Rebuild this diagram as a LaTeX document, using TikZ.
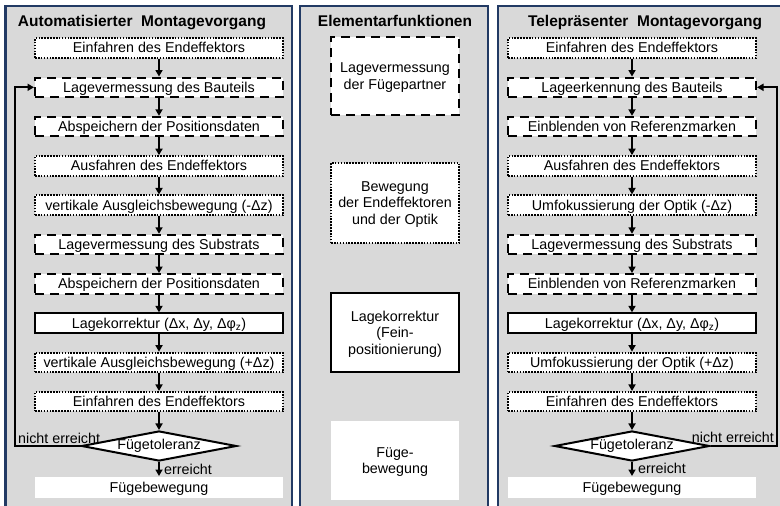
\documentclass[tikz,border=0pt]{standalone}
\usepackage{fontspec}
\setmainfont{Liberation Sans}
\usetikzlibrary{arrows.meta,shapes.geometric}
\definecolor{panelgray}{RGB}{217,217,217}
\definecolor{panelblue}{RGB}{34,58,100}
\begin{document}
\begin{tikzpicture}[x=1pt,y=-1pt,
  panel/.style={draw=panelblue,line width=1.6pt,fill=panelgray},
  title/.style={anchor=base,inner sep=0pt,font=\bfseries\fontsize{15.5}{18}\selectfont},
  stepbase/.style={fill=white,minimum width=248pt,minimum height=19.5pt,inner sep=0pt,
    line width=2pt,text height=9.8pt,text depth=0pt,font=\fontsize{14.3}{16}\selectfont},
  dottedbox/.style={stepbase,draw,dash pattern=on 1.6pt off 1.3pt},
  dashedbox/.style={stepbase,draw,dash pattern=on 9pt off 6pt},
  solidbox/.style={stepbase,draw},
  plainbox/.style={stepbase},
  funcbox/.style={minimum width=128pt,minimum height=79pt,align=center,
    text height={},text depth=0pt,font=\fontsize{14.3}{16.5}\selectfont},
  decision/.style={diamond,draw,fill=white,line width=2pt,aspect=5,inner sep=0pt,
    minimum width=155pt,minimum height=30pt,font=\fontsize{14.3}{16}\selectfont},
  flow/.style={line width=2pt,-{Triangle[width=7pt,length=6.5pt]}},
  lbl/.style={inner sep=0pt,font=\fontsize{14.3}{16}\selectfont}
]
\useasboundingbox (0,0) rectangle (780,506);
\clip (0,0) rectangle (780,506);
\fill[white] (0,0) rectangle (780,506);

% three panels
\filldraw[panel] (5,6) rectangle (292,530);
\filldraw[panel] (300,6) rectangle (488,530);
\filldraw[panel] (498,6) rectangle (800,530);
\draw[panelblue,line width=2.4pt] (5.4,6) -- (5.4,530);

\node[title] (T1) at (142,27) {Automatisierter\ \ Montagevorgang};
\node[title] (T2) at (395,27) {Elementarfunktionen};
\node[title] (T3) at (645,27) {Telepräsenter\ \ Montagevorgang};

% automated assembly sequence
\node[dottedbox] (L1) at (159,48) {Einfahren des Endeffektors};
\node[dashedbox] (L2) at (159,87.3) {Lagevermessung des Bauteils};
\node[dashedbox] (L3) at (159,126.6) {Abspeichern der Positionsdaten};
\node[dottedbox] (L4) at (159,165.9) {Ausfahren des Endeffektors};
\node[dottedbox] (L5) at (159,205.2) {vertikale Ausgleichsbewegung (-Δz)};
\node[dashedbox] (L6) at (159,244.5) {Lagevermessung des Substrats};
\node[dashedbox] (L7) at (159,283.8) {Abspeichern der Positionsdaten};
\node[solidbox] (L8) at (159,323.1) {Lagekorrektur (Δx, Δy, Δφ\textsubscript{z})};
\node[dottedbox] (L9) at (159,362.4) {vertikale Ausgleichsbewegung (+Δz)};
\node[dottedbox] (L10) at (159,401.7) {Einfahren des Endeffektors};
\node[decision] (LD) at (159,446) {Fügetoleranz};
\node[plainbox,minimum height=21pt] (LF) at (159,487.5) {Fügebewegung};

\foreach \a/\b in {L1/L2,L2/L3,L3/L4,L4/L5,L5/L6,L6/L7,L7/L8,L8/L9,L9/L10,L10/LD,LD/LF}
  \draw[flow] (\a) -- (\b);
\coordinate (LL) at (15,0);
\draw[flow] (LD.west) -- (LD.west -| LL) |- (L2.west);
\node[lbl,anchor=base west] (LN) at (18,443) {nicht erreicht};
\node[lbl,anchor=base west] (LE) at (164,474) {erreicht};

% elementary functions
\node[dashedbox,funcbox,minimum height=78pt] (M1) at (395,76) {Lagevermessung\\der Fügepartner};
\node[dottedbox,funcbox,minimum height=80pt] (M2) at (395,203) {Bewegung\\der Endeffektoren\\und der Optik};
\node[solidbox,funcbox] (M3) at (395,332.5) {Lagekorrektur\\(Fein-\\positionierung)};
\node[plainbox,funcbox] (M4) at (395,460.5) {Füge-\\bewegung};

% telepresent assembly sequence
\node[dottedbox] (R1) at (632,48) {Einfahren des Endeffektors};
\node[dashedbox] (R2) at (632,87.3) {Lageerkennung des Bauteils};
\node[dashedbox] (R3) at (632,126.6) {Einblenden von Referenzmarken};
\node[dottedbox] (R4) at (632,165.9) {Ausfahren des Endeffektors};
\node[dottedbox] (R5) at (632,205.2) {Umfokussierung der Optik (-Δz)};
\node[dashedbox] (R6) at (632,244.5) {Lagevermessung des Substrats};
\node[dashedbox] (R7) at (632,283.8) {Einblenden von Referenzmarken};
\node[solidbox] (R8) at (632,323.1) {Lagekorrektur (Δx, Δy, Δφ\textsubscript{z})};
\node[dottedbox] (R9) at (632,362.4) {Umfokussierung der Optik (+Δz)};
\node[dottedbox] (R10) at (632,401.7) {Einfahren des Endeffektors};
\node[decision] (RD) at (632,446) {Fügetoleranz};
\node[plainbox,minimum height=21pt] (RF) at (632,487.5) {Fügebewegung};

\foreach \a/\b in {R1/R2,R2/R3,R3/R4,R4/R5,R5/R6,R6/R7,R7/R8,R8/R9,R9/R10,R10/RD,RD/RF}
  \draw[flow] (\a) -- (\b);
\coordinate (RL) at (777,0);
\draw[flow] (RD.east) -- (RD.east -| RL) |- (R2.east);
\node[lbl,anchor=base east] (RN) at (774,442) {nicht erreicht};
\node[lbl,anchor=base west] (RE) at (638,473) {erreicht};
\end{tikzpicture}
\end{document}
